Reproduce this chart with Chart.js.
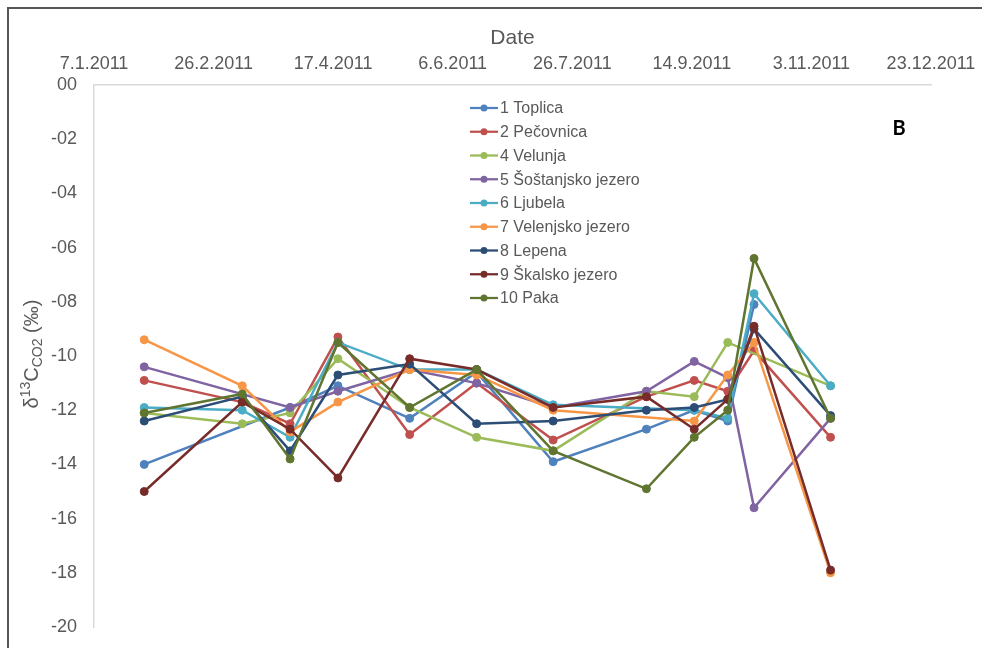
<!DOCTYPE html>
<html>
<head>
<meta charset="utf-8">
<script src="https://cdn.jsdelivr.net/npm/chart.js@4/dist/chart.umd.min.js"></script>
<style>
  html, body { margin: 0; padding: 0; background: #ffffff; }
  #wrap { position: relative; width: 982px; height: 648px; overflow: hidden; }
  #frame { position: absolute; left: 7px; top: 7px; width: 1000px; height: 700px;
           border-left: 2px solid #555555; border-top: 2px solid #555555; pointer-events: none; }
  canvas { position: absolute; left: 0; top: 0; }
</style>
</head>
<body>
<div id="wrap">
  <canvas id="c" width="982" height="648"></canvas>
  <div id="frame"></div>
</div>
<script>
// Sampling dates (d.m.yyyy)
const sampleDates = ['28.1.2011', '10.3.2011', '30.3.2011', '19.4.2011', '19.5.2011', '16.6.2011',
                     '18.7.2011', '26.8.2011', '15.9.2011', '29.9.2011', '10.10.2011', '11.11.2011'];

// δ13C of CO2 (‰) per site; null = no sample on that date
const toplica    = [-14.0, null, -11.9, -11.1, -12.3, -10.6, -13.9, -12.7, -12.0, -12.4, -8.1, null];
const pecovnica  = [-10.9, -11.7, -12.5, -9.3, -12.9, -11.0, -13.1, -11.5, -10.9, -11.3, -9.8, -13.0];
const velunja    = [-12.1, -12.5, -12.1, -10.1, -11.9, -13.0, -13.5, -11.3, -11.5, -9.5, null, -11.1];
const sostanjsko = [-10.4, null, -11.9, -11.3, -10.5, -11.0, -11.9, -11.3, -10.2, -10.8, -15.6, -12.3];
const ljubela    = [-11.9, -12.0, -13.0, -9.5, -10.5, -10.5, -11.8, null, -12.0, -12.3, -7.7, -11.1];
const velenjsko  = [-9.4, -11.1, -12.8, -11.7, -10.5, -10.7, -12.0, null, -12.4, -10.7, -9.5, -18.0];
const lepena     = [-12.4, -11.5, -13.5, -10.7, -10.3, -12.5, -12.4, -12.0, -11.9, -11.6, -9.0, -12.2];
const skalsko    = [-15.0, -11.7, -12.7, -14.5, -10.1, -10.5, -11.9, -11.5, -12.7, -11.6, -8.9, -17.9];
const paka       = [-12.1, -11.4, -13.8, -9.5, -11.9, -10.5, -13.5, -14.9, -13.0, -12.0, -6.4, -12.3];

const seriesNames = ['1 Toplica', '2 Pečovnica', '4 Velunja', '5 Šoštanjsko jezero', '6 Ljubela',
                     '7 Velenjsko jezero', '8 Lepena', '9 Škalsko jezero', '10 Paka'];
const seriesValues = [toplica, pecovnica, velunja, sostanjsko, ljubela, velenjsko, lepena, skalsko, paka];
const seriesColors = ['#4F81BD', '#C0504D', '#9BBB59', '#8064A2', '#4BACC6',
                      '#F79646', '#2C4D75', '#772C2A', '#5F7530'];

// Axis ticks: dates every 50 days, δ values every 2 ‰
const dateTicks = ['7.1.2011', '26.2.2011', '17.4.2011', '6.6.2011', '26.7.2011',
                   '14.9.2011', '3.11.2011', '23.12.2011'];
const yMin = -20, yMax = 0, yStep = 2;
const axisTitleX = 'Date';
const panelLabel = 'B';

// day-of-year helpers
function dayOfYear(s) {
  const [d, m, y] = s.split('.').map(Number);
  return Math.round((Date.UTC(y, m - 1, d) - Date.UTC(y, 0, 1)) / 86400000) + 1;
}
function dateLabel(doy) {
  const dt = new Date(Date.UTC(2011, 0, 1) + (Math.round(doy) - 1) * 86400000);
  return dt.getUTCDate() + '.' + (dt.getUTCMonth() + 1) + '.' + dt.getUTCFullYear();
}
const sampleDays = sampleDates.map(dayOfYear);
const tickDays = dateTicks.map(dayOfYear);

const n = seriesNames.length;
const datasets = seriesNames.map((name, i) => ({
  label: name,
  data: sampleDays.map((x, j) => ({ x: x, y: seriesValues[i][j] })),
  borderColor: seriesColors[i],
  backgroundColor: seriesColors[i],
  pointBackgroundColor: seriesColors[i],
  pointBorderColor: seriesColors[i],
  pointRadius: 4,
  pointBorderWidth: 1,
  borderWidth: 2.5,
  tension: 0,
  spanGaps: true,
  order: n - i
}));

const GRAY = '#595959';

// legend, y-axis title and panel letter
const decorations = {
  id: 'decorations',
  afterDraw(chart) {
    const ctx = chart.ctx;
    ctx.save();
    // legend
    const lx = 470, ly = 108, dy = 23.75;
    ctx.font = '16px "Liberation Sans", Arial, sans-serif';
    ctx.textBaseline = 'middle';
    ctx.textAlign = 'left';
    seriesNames.forEach((name, i) => {
      const y = ly + i * dy;
      ctx.strokeStyle = seriesColors[i];
      ctx.lineWidth = 2.25;
      ctx.beginPath(); ctx.moveTo(lx, y); ctx.lineTo(lx + 28, y); ctx.stroke();
      ctx.fillStyle = seriesColors[i];
      ctx.beginPath(); ctx.arc(lx + 14, y, 3.5, 0, Math.PI * 2); ctx.fill();
      ctx.fillStyle = GRAY;
      ctx.fillText(name, lx + 30, y + 1);
    });

    // rotated y-axis title δ13C(CO2) (‰)
    const parts = [
      { t: 'δ', size: 20, dy: 0 },
      { t: '13', size: 14, dy: -8 },
      { t: 'C', size: 20, dy: 0 },
      { t: 'CO2', size: 14, dy: 4 },
      { t: ' (‰)', size: 20, dy: 0 }
    ];
    let total = 0;
    parts.forEach(p => {
      ctx.font = p.size + 'px "Liberation Sans", Arial, sans-serif';
      p.w = ctx.measureText(p.t).width;
      total += p.w;
    });
    ctx.translate(38, 354);
    ctx.rotate(-Math.PI / 2);
    ctx.textBaseline = 'alphabetic';
    ctx.fillStyle = GRAY;
    let x = -total / 2;
    parts.forEach(p => {
      ctx.font = p.size + 'px "Liberation Sans", Arial, sans-serif';
      ctx.fillText(p.t, x, p.dy);
      x += p.w;
    });
    ctx.setTransform(1, 0, 0, 1, 0, 0);

    // panel letter
    ctx.font = 'bold 20px Lato, "Liberation Sans", sans-serif';
    ctx.fillStyle = '#000000';
    ctx.textAlign = 'center';
    ctx.textBaseline = 'middle';
    ctx.fillText(panelLabel, 899, 129);
    ctx.restore();
  }
};

new Chart(document.getElementById('c'), {
  type: 'line',
  data: { datasets: datasets },
  options: {
    responsive: false,
    animation: false,
    devicePixelRatio: 1,
    layout: { padding: { left: 0, top: 0, right: 51, bottom: 21 } },
    plugins: { legend: { display: false }, tooltip: { enabled: false } },
    scales: {
      x: {
        type: 'linear',
        position: 'top',
        min: tickDays[0],
        max: tickDays[tickDays.length - 1],
        afterBuildTicks: s => { s.ticks = tickDays.map(v => ({ value: v })); },
        afterFit: s => { s.height = 85; s.paddingLeft = 0; s.paddingRight = 0; },
        grid: { display: false, drawTicks: false },
        border: { display: true, color: '#d9d9d9', width: 1.5 },
        ticks: {
          autoSkip: false, maxRotation: 0, padding: 10,
          color: GRAY,
          font: { family: '"Liberation Sans", Arial, sans-serif', size: 18 },
          callback: v => dateLabel(v)
        },
        title: {
          display: true, text: axisTitleX, color: GRAY,
          font: { family: '"Liberation Sans", Arial, sans-serif', size: 21 },
          padding: { top: 26, bottom: 0 }
        }
      },
      y: {
        min: yMin, max: yMax,
        afterBuildTicks: s => {
          const t = [];
          for (let v = yMin; v <= yMax + 1e-9; v += yStep) t.push({ value: v });
          s.ticks = t;
        },
        afterFit: s => { s.width = 94; s.paddingTop = 0; s.paddingBottom = 0; },
        grid: { display: false, drawTicks: false },
        border: { display: true, color: '#d9d9d9', width: 1.5 },
        ticks: {
          padding: 17, color: GRAY,
          font: { family: '"Liberation Sans", Arial, sans-serif', size: 18 },
          callback: v => (v < 0 ? '-' : '') + String(Math.abs(Math.round(v))).padStart(2, '0')
        }
      }
    }
  },
  plugins: [decorations]
});
</script>
</body>
</html>
